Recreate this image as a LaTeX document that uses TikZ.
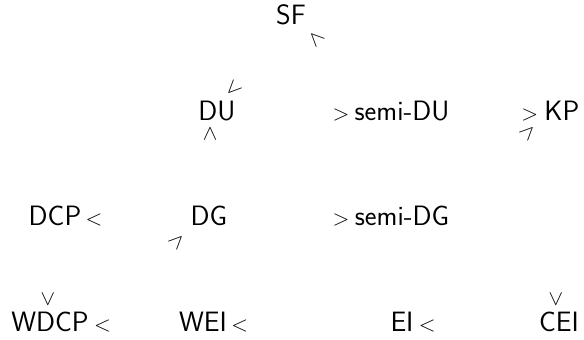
\documentclass[tikz,border=0pt]{standalone}
\usepackage{fontspec}
\tikzset{
  big/.style={inner sep=0pt, font=\sffamily\fontsize{28}{33}\selectfont},
  rel/.style={inner sep=0pt, font=\rmfamily\fontsize{22}{26}\selectfont},
}
\newcommand{\lt}{<}
\newcommand{\gt}{>}
\begin{document}
\begin{tikzpicture}[x=1pt,y=1pt]
\useasboundingbox (0,0) rectangle (584,340);
% row 1
\node[big] (SF) at (291,325) {SF};
\node[rel, rotate=-45] (r1) at (316,301) {\lt};
% row 2
\node[big] (DU) at (217,229) {DU};
\node[rel, rotate=45] (r2) at (234,251) {\lt};
\node[rel, rotate=-90] (r3) at (210,206) {\lt};
\node[big] (sDU) at (402,229) {semi-DU};
\node[rel, anchor=base east, xshift=-5pt] (r4) at (sDU.base west) {\gt};
\node[big] (KP) at (562,229) {KP};
\node[rel, anchor=base east, xshift=-6pt] (r5) at (KP.base west) {\gt};
\node[rel, rotate=-135] (r6) at (528,208) {\lt};
% row 3
\node[big] (DCP) at (55,124) {DCP};
\node[rel, anchor=base west, xshift=4pt] (r7) at (DCP.base east) {\lt};
\node[big] (DG) at (209,124) {DG};
\node[rel, rotate=-135] (r8) at (177,99) {\lt};
\node[big] (sDG) at (402,124) {semi-DG};
\node[rel, anchor=base east, xshift=-5pt] (r9) at (sDG.base west) {\gt};
% row 4
\node[big] (WDCP) at (50,18) {WDCP};
\node[rel, rotate=90] (r10) at (48,41) {\lt};
\node[rel, anchor=base west, xshift=5pt] (r11) at (WDCP.base east) {\lt};
\node[big] (WEI) at (203,18) {WEI};
\node[rel, anchor=base west, xshift=4pt] (r12) at (WEI.base east) {\lt};
\node[big] (EI) at (402,18) {EI};
\node[rel, anchor=base west, xshift=5pt] (r13) at (EI.base east) {\lt};
\node[big] (CEI) at (559,18) {CEI};
\node[rel, rotate=90] (r14) at (556,41) {\lt};
\end{tikzpicture}
\end{document}
